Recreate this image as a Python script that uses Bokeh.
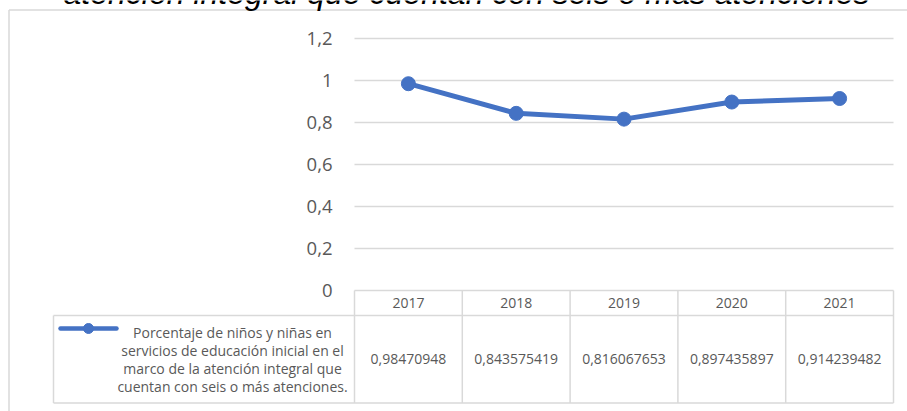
from bokeh.plotting import figure
from bokeh.models import Range1d
from bokeh.core.properties import value
from bokeh.embed import file_html
from bokeh.resources import INLINE

# ---- data ----
years = ["2017", "2018", "2019", "2020", "2021"]
values = [0.98470948, 0.843575419, 0.816067653, 0.897435897, 0.914239482]
value_labels = ["0,98470948", "0,843575419", "0,816067653", "0,897435897", "0,914239482"]
y_ticks = [0, 0.2, 0.4, 0.6, 0.8, 1.0, 1.2]
y_tick_labels = ["0", "0,2", "0,4", "0,6", "0,8", "1", "1,2"]
series_name_lines = [
    "Porcentaje de niños y niñas en",
    "servicios de educación inicial en el",
    "marco de la atención integral que",
    "cuentan con seis o más atenciones.",
]
title_text = "atención integral que cuentan con seis o más atenciones"

# ---- layout (canvas pixels) ----
W, H = 907, 411
PL, PR = 354, 893      # plot area left / right
PT, PB = 38, 290       # plot area top (1.2) / bottom (0)
Y_MAX = 1.2
n = len(years)
cw = (PR - PL) / n
ppu = (PB - PT) / Y_MAX
HDR_BOT = 315
TBL_BOT = 402.5
LEG_L = 53
BLUE = "#4472C4"
GRID = "#d9d9d9"
TXT = "#595959"
FONT = value("Open Sans")

x_range = Range1d(-PL / cw, (W - PL) / cw)
y_range = Range1d(-(H - PB) / ppu, Y_MAX + PT / ppu)

p = figure(width=W, height=H, x_range=x_range, y_range=y_range, min_border=0,
           toolbar_location=None, output_backend="svg",
           x_axis_location=None, y_axis_location=None,
           outline_line_color=None, background_fill_color="white",
           border_fill_color="white")
p.xgrid.visible = False
p.ygrid.visible = False
p.extra_x_ranges = {"px": Range1d(0, W)}
p.extra_y_ranges = {"px": Range1d(H, 0)}

# outer chart border
p.segment(x0=[8.5, 8.5], x1=[8.5, W], y0=[9.5, 9.5], y1=[H, 9.5],
          x_range_name="px", y_range_name="px", line_color=GRID, line_width=1.5)

# title (partly cut off at the top)
p.text(x=[466], y=[-8], text=[title_text], x_range_name="px", y_range_name="px",
       text_font=value("Liberation Sans"), text_font_style="italic",
       text_font_size="32px", text_color="#000000",
       text_align="center", text_baseline="alphabetic")

# gridlines
p.segment(x0=[0] * len(y_ticks), x1=[n] * len(y_ticks), y0=y_ticks, y1=y_ticks,
          line_color=GRID, line_width=1.5)

# y tick labels
p.text(x=[PL - 22] * len(y_ticks), y=y_ticks, text=y_tick_labels, x_range_name="px",
       text_font=FONT, text_font_size="18.5px", text_color=TXT,
       text_align="right", text_baseline="middle")

# data table lines
col_x = [PL + k * cw for k in range(n + 1)]
p.segment(x0=col_x, x1=col_x, y0=[PB] * (n + 1), y1=[TBL_BOT] * (n + 1),
          x_range_name="px", y_range_name="px", line_color=GRID, line_width=1.5)
p.segment(x0=[LEG_L, LEG_L, LEG_L], x1=[LEG_L, PR, PR], y0=[HDR_BOT, HDR_BOT, TBL_BOT],
          y1=[TBL_BOT, HDR_BOT, TBL_BOT],
          x_range_name="px", y_range_name="px", line_color=GRID, line_width=1.5)

xc = [i + 0.5 for i in range(n)]
p.text(x=xc, y=[(PB + HDR_BOT) / 2] * n, text=years, y_range_name="px",
       text_font=FONT, text_font_size="14px", text_color=TXT,
       text_align="center", text_baseline="middle")
p.text(x=xc, y=[(HDR_BOT + TBL_BOT) / 2] * n, text=value_labels, y_range_name="px",
       text_font=FONT, text_font_size="14px", text_color=TXT,
       text_align="center", text_baseline="middle")

# legend key in table
p.line(x=[60, 116], y=[328, 328], x_range_name="px", y_range_name="px",
       line_color=BLUE, line_width=4.5, line_cap="round")
p.scatter(x=[88], y=[328], x_range_name="px", y_range_name="px", size=10,
          fill_color=BLUE, line_color=BLUE)
mid = (HDR_BOT + TBL_BOT) / 2
ls = 18
leg_y = [mid + (k - (len(series_name_lines) - 1) / 2) * ls for k in range(len(series_name_lines))]
p.text(x=[232] * len(series_name_lines), y=leg_y, text=series_name_lines,
       x_range_name="px", y_range_name="px",
       text_font=FONT, text_font_size="14px", text_color=TXT,
       text_align="center", text_baseline="middle")

# series
p.line(x=xc, y=values, line_color=BLUE, line_width=5, line_join="round")
p.scatter(x=xc, y=values, size=14, fill_color=BLUE, line_color=BLUE)

open("out.html", "w").write(file_html(p, INLINE))
